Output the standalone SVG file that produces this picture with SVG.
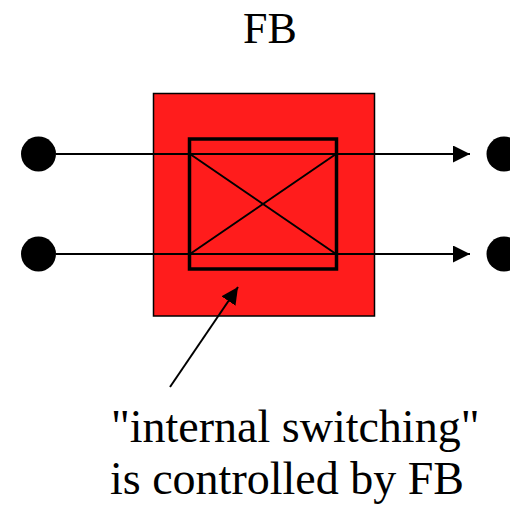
<svg xmlns="http://www.w3.org/2000/svg" width="510" height="509" viewBox="0 0 510 509">
<style>
text{font-family:'Liberation Serif','Times New Roman',serif;fill:#000}
.ln{stroke:#000;stroke-width:2;fill:none}
.dot{fill:#000}
</style>
<defs>
<marker id="ah2" markerWidth="17" markerHeight="17" refX="17" refY="8.5" orient="auto" markerUnits="userSpaceOnUse" viewBox="0 0 17 17">
<path d="M0,0 L17,8.5 L0,17 z" fill="#000"/>
</marker>
</defs>
<rect width="510" height="509" fill="#fff"/>
<g id="fb-block">
<rect x="153.5" y="93.5" width="221" height="222.5" fill="#FF1C1C" stroke="#000" stroke-width="1.5"/>
</g>
<g id="switch">
<rect x="189.5" y="139" width="147" height="130" fill="none" stroke="#000" stroke-width="3.5"/>
<line x1="190" y1="154" x2="336" y2="254" class="ln" stroke-width="1.5"/>
<line x1="190" y1="254" x2="336" y2="154" class="ln" stroke-width="1.5"/>
</g>
<g id="in1"><circle cx="38.5" cy="154" r="17.5" class="dot"/></g>
<g id="in2"><circle cx="38.5" cy="254" r="17.5" class="dot"/></g>
<g id="out1"><circle cx="504" cy="154" r="17.5" class="dot"/></g>
<g id="out2"><circle cx="504" cy="254" r="17.5" class="dot"/></g>
<g id="connectors">
<line x1="56" y1="154" x2="470" y2="154" class="ln" marker-end="url(#ah2)"/>
<line x1="56" y1="254" x2="470" y2="254" class="ln" marker-end="url(#ah2)"/>
<line x1="170" y1="387" x2="238" y2="287" class="ln" marker-end="url(#ah2)"/>
</g>
<g id="title"><text x="270" y="43" font-size="44" text-anchor="middle">FB</text></g>
<g id="label">
<text x="111" y="442" font-size="46">"internal switching"</text>
<text x="110" y="494" font-size="46">is controlled by FB</text>
</g>
</svg>
